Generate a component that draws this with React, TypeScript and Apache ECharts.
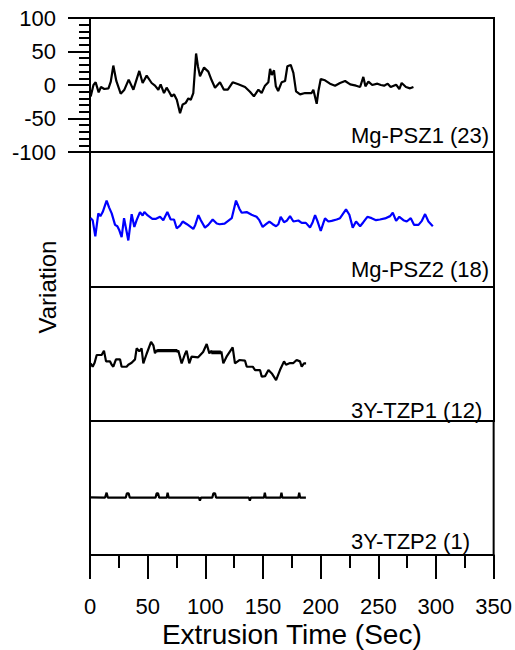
import React, { useEffect, useRef } from "react";
import * as echarts from "echarts";

// ---- data: [time (s), variation] ----
const panelLabels = ["Mg-PSZ1 (23)", "Mg-PSZ2 (18)", "3Y-TZP1 (12)", "3Y-TZP2 (1)"];
const yTicks = [-100, -50, 0, 50, 100];
const xTicks = [0, 50, 100, 150, 200, 250, 300, 350];

const mgPsz1 = [
  [0.6, -17], [3, 0], [4.9, 4], [7.5, -11], [9.5, -3], [12.4, -6], [16, -5], [18, 5], [20.2, 29], [22.8, 6],
  [26.6, -13], [29.8, -7], [33.5, 8], [37.6, -7], [42.7, 21], [45.6, 3], [49.1, 14], [53.4, 3], [56.3, -1], [59.2, -7],
  [61.2, 1], [64.1, -12], [66.4, -4], [68.5, -10], [70.7, -17], [72.8, -14], [75.2, -22], [78, -42], [80.3, -29], [82.8, -27],
  [85.2, -20], [87.3, -22], [89.5, -12], [91.9, 47], [93.5, 28], [95.3, 13], [98.8, 26], [102.5, 20], [105.4, 7], [108.3, -4],
  [112.6, 4], [116, -7], [119.4, -7], [123.6, 4], [128.5, 1], [134.3, -3], [138.6, -10], [142, -17], [145.9, -7], [148.7, -12],
  [151.6, -1], [154.5, 4], [156, 24], [157.5, 15], [159.4, 22], [161, -2], [163, -9], [166, 4], [169, 6], [171, 28],
  [173.9, 30], [176.2, 18], [178.5, -9.5], [182, -14], [186.3, -12], [192, -12], [193.5, -7], [196.4, -28], [197.9, -9], [199.9, 9],
  [203.6, 7], [207.9, 2], [212.3, -1], [216.6, 3], [221, 6], [225.4, 1], [230.5, -1], [234, -3], [236.8, 12], [238.6, -2],
  [241.2, 5], [244.5, 0], [249, 2], [252, 0], [254.8, -1], [257.9, 2], [260.5, -3], [265.2, 0.5], [268, -6], [270, 3],
  [273.7, -3], [277.3, -5], [280.2, -3],
];

const mgPsz2 = [
  [0.5, 2], [2.3, -1], [4.6, -25], [7.2, 9], [9, 5], [11, 11], [14.4, 28], [16.5, 18], [18.8, 9], [21.7, -8], [23.7, -10],
  [25.4, -16], [27.4, -26], [29.5, 2], [31.5, -16], [33.2, -31], [36.1, 8], [38.4, -11], [40.4, -1], [43.3, 11],
  [45.6, 6], [47.1, 11], [50, 6], [54, 1], [57.2, 1], [60.7, 4], [63.5, -1], [67, 11], [69.9, 0], [72.8, 0],
  [75.1, -13], [78, -9], [80.3, -3], [84, -7], [89.5, -14], [91.2, -8], [93.9, 6.5], [96, -1], [99.6, -12], [102.5, -8],
  [106.3, 0], [109.8, -6], [112.3, -7], [116.6, -6], [122.8, 2], [126.5, 28], [129.4, 16], [131.4, 10], [135.7, 11], [140, 7],
  [144.3, 4], [146.7, -1], [149.6, -11], [152.5, -7], [155.4, -3], [158.3, -7], [161.2, -10], [163.2, -7], [165.2, 4], [168.1, -4],
  [170.4, -2], [173.3, 5], [176.2, -3], [180.5, -1.5], [183.4, -5], [187, -5], [190.6, -12], [192.9, -4], [195, 6.5], [197, -2],
  [199.9, -17], [202.2, -5], [203.6, 1.6], [206.5, -3], [209.4, -2], [213.7, 0], [216.6, 2], [221.8, 15], [224.7, 7], [227.6, -12],
  [230.5, -3], [234, -10], [236.8, -4], [240.3, 4], [244, 2], [247.8, -1], [251.2, 0], [255.6, 1.6], [260, 5], [262.3, 10],
  [265.2, -2], [268, 4], [271.5, -1], [274.4, -3], [277.9, 2], [280.8, -8], [284.6, -8], [287.5, -2], [290.3, 8], [293.2, -3],
  [297, -10],
];

const tzp1 = [
  [0.5, -14], [2.3, -19], [4, -13], [5.8, -1.5], [10.1, -1.5], [12.1, 5], [13.9, -11], [17.3, -11], [18.8, -16], [20.2, -19],
  [22.5, -8], [26, -8], [27.4, -19], [31.7, -19], [33.2, -16], [36.1, -13], [39, -8], [40.4, 8.5], [42.7, 4], [44.7, 8.5],
  [46.2, -14], [49, 0], [52.9, 18], [54.9, 13], [56.3, 1], [57.8, 6],
  [58.5, 3], [59.2, 7], [59.9, 3], [60.6, 7], [61.3, 3], [62, 7], [62.7, 3], [63.4, 7], [64.1, 3], [64.8, 7],
  [65.5, 3], [66.2, 7], [66.9, 3], [67.6, 7], [68.3, 3], [69, 7], [69.7, 3], [70.4, 7], [71.1, 3], [71.8, 7],
  [72.5, 3], [73.2, 7], [73.9, 3], [74.6, 7], [75.3, 3], [76.5, 5],
  [79.4, -14], [82.3, 0], [83.7, 5], [86, -14], [88, -4], [93.7, -5], [98, 3], [101.1, 15], [103.4, 1], [105.4, 5],
  [106.1, 0], [106.8, 5], [107.5, 0], [108.2, 5], [108.9, 0], [109.6, 5], [110.3, 0], [111, 5], [111.7, 0], [112.4, 5],
  [113.1, 0], [113.8, 4],
  [115.5, -14], [118.3, -4], [123.6, 10], [125.6, -14], [129.4, -9], [134.3, -10], [135.8, -19], [141, -19], [143, -24], [147.3, -24],
  [148.8, -34], [151.7, -33], [154.6, -24], [157.5, -29], [161.2, -39], [164.6, -24], [168.1, -11], [169.8, -16], [173.3, -13.5], [176.2, -13.5],
  [179, -9], [181.9, -11], [183.4, -19], [185.4, -14], [187.2, -14],
];

const tzp2 = [
  [0, -14], [13, -14.5], [14.4, -7], [15.5, -14.5], [31, -14.5], [32, -8], [33.5, -8], [34.5, -14.5], [56.8, -14.5], [57.8, -8],
  [59, -8], [60, -14.5], [66.5, -14.5], [67.3, -7], [68.2, -14.5], [94.5, -14.5], [95.3, -19], [96.2, -14.5], [106, -14.5], [107, -8],
  [108.4, -8], [109.4, -14.5], [137.8, -14.5], [138.6, -19], [139.4, -14.5], [150.8, -14.5], [151.6, -7], [152.4, -14.5], [165.2, -14.5], [166, -7],
  [166.8, -14.5], [180.6, -14.5], [181.4, -7], [182.2, -14.5], [187.2, -14.5],
];

const seriesData = [mgPsz1, mgPsz2, tzp1, tzp2];
const seriesColors = ["#000000", "#0000ff", "#000000", "#000000"];

const FONT = "Liberation Sans, Arial, sans-serif";

export default function App() {
  const ref = useRef<HTMLDivElement>(null);
  useEffect(() => {
    if (!ref.current) return;
    const chart = echarts.init(ref.current, undefined, { renderer: "svg" });
    const tops = [18, 152, 287, 421];
    const heights = [134, 135, 134, 134];
    const labelY = [135, 269, 410, 541.5];

    const grid = tops.map((t, i) => ({
      left: 90,
      right: 21,
      top: t,
      height: heights[i],
      show: true,
      borderColor: "#000",
      borderWidth: 2,
      containLabel: false,
    }));

    const xAxis = tops.map((_, i) => {
      const isBottom = i === 3;
      return {
        type: "value",
        gridIndex: i,
        min: xTicks[0],
        max: xTicks[xTicks.length - 1],
        interval: 50,
        show: isBottom,
        name: isBottom ? "Extrusion Time (Sec)" : "",
        nameLocation: "middle",
        nameGap: 65,
        nameTextStyle: { fontFamily: FONT, fontSize: 28, color: "#000" },
        axisLine: { show: true, onZero: false, lineStyle: { color: "#000", width: 2 } },
        axisTick: { show: true, length: 24, lineStyle: { color: "#000", width: 2 } },
        minorTick: { show: true, splitNumber: 2, length: 13, lineStyle: { color: "#000", width: 2 } },
        axisLabel: { show: true, fontFamily: FONT, fontSize: 22, color: "#000", margin: 40 },
        splitLine: { show: false },
        minorSplitLine: { show: false },
      };
    });

    const yAxis = tops.map((_, i) => {
      const isTop = i === 0;
      return {
        type: "value",
        gridIndex: i,
        min: yTicks[0],
        max: yTicks[yTicks.length - 1],
        interval: 50,
        axisLine: { show: true, onZero: false, lineStyle: { color: "#000", width: 2 } },
        axisTick: { show: isTop, length: 22, lineStyle: { color: "#000", width: 2 } },
        minorTick: { show: isTop, splitNumber: 5, length: 11, lineStyle: { color: "#000", width: 2 } },
        axisLabel: { show: isTop, fontFamily: FONT, fontSize: 22, color: "#000", margin: 34 },
        splitLine: { show: false },
      };
    });

    const series = seriesData.map((d, i) => ({
      type: "line",
      xAxisIndex: i,
      yAxisIndex: i,
      data: d,
      showSymbol: false,
      symbol: "none",
      lineStyle: { color: seriesColors[i], width: 2.2 },
      itemStyle: { color: seriesColors[i] },
    }));

    const graphic: any[] = panelLabels.map((txt, i) => ({
      type: "text",
      x: 351,
      y: labelY[i],
      style: {
        text: txt,
        fontFamily: FONT,
        fontSize: 22,
        fill: "#000",
        align: "left",
        verticalAlign: "middle",
      },
    }));
    graphic.push({
      type: "text",
      x: 47,
      y: 287,
      rotation: Math.PI / 2,
      style: {
        text: "Variation",
        fontFamily: FONT,
        fontSize: 24,
        fill: "#000",
        align: "center",
        verticalAlign: "middle",
      },
    });

    chart.setOption({
      animation: false,
      backgroundColor: "#fff",
      grid,
      xAxis,
      yAxis,
      series,
      graphic,
    });
    return () => chart.dispose();
  }, []);
  return (
    <div
      ref={ref}
      style={{ position: "fixed", left: 0, top: 0, width: 515, height: 650, background: "#fff" }}
    />
  );
}
